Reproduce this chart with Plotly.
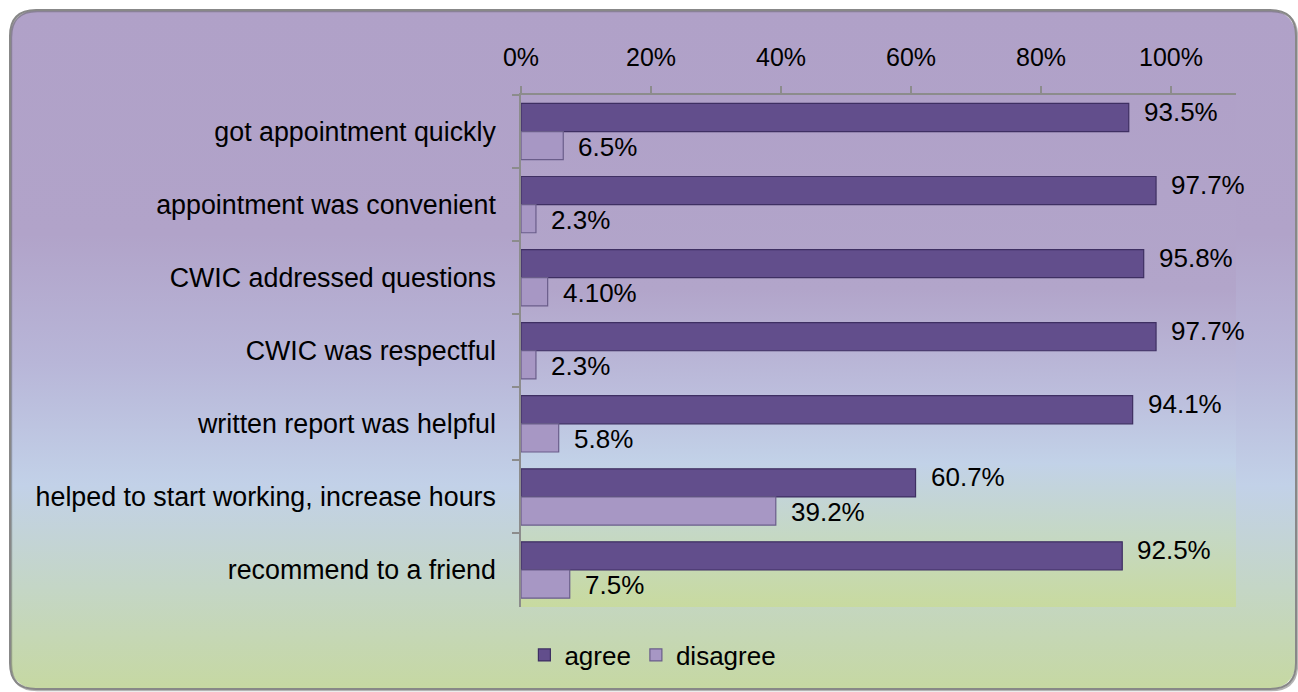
import numpy as np
import plotly.graph_objects as go

# ---- data -------------------------------------------------------------
categories = [
    "got appointment quickly",
    "appointment was convenient",
    "CWIC addressed questions",
    "CWIC was respectful",
    "written report was helpful",
    "helped to start working, increase hours",
    "recommend to a friend",
]
agree = [93.5, 97.7, 95.8, 97.7, 94.1, 60.7, 92.5]
agree_labels = ["93.5%", "97.7%", "95.8%", "97.7%", "94.1%", "60.7%", "92.5%"]
disagree = [6.5, 2.3, 4.1, 2.3, 5.8, 39.2, 7.5]
disagree_labels = ["6.5%", "2.3%", "4.10%", "2.3%", "5.8%", "39.2%", "7.5%"]
tick_values = [0, 20, 40, 60, 80, 100]
tick_labels = ["0%", "20%", "40%", "60%", "80%", "100%"]

# ---- canvas geometry (pixels) -----------------------------------------
W, H = 1298, 692
FONT = "Liberation Sans, Arial, sans-serif"
frame = (10, 10, 1296, 689, 26)         # x0, y0, x1, y1, corner radius
plot_box = (521, 95, 1236, 607)         # x0, y0, x1, y1 of the bar area


def rounded_rect(x0, y0, x1, y1, r, n=16):
    xs, ys = [], []
    corners = [
        (x1 - r, y0 + r, -np.pi / 2, 0.0),
        (x1 - r, y1 - r, 0.0, np.pi / 2),
        (x0 + r, y1 - r, np.pi / 2, np.pi),
        (x0 + r, y0 + r, np.pi, 1.5 * np.pi),
    ]
    for cx, cy, a0, a1 in corners:
        t = np.linspace(a0, a1, n)
        xs += list(cx + r * np.cos(t))
        ys += list(cy + r * np.sin(t))
    xs.append(xs[0])
    ys.append(ys[0])
    return xs, ys


fig = go.Figure()

# chart-area background: rounded panel with a purple -> blue -> green wash
fx, fy = rounded_rect(*frame)
fig.add_trace(go.Scatter(
    x=fx, y=fy, mode="lines", fill="toself", line=dict(width=0),
    fillgradient=dict(
        type="vertical", start=frame[1], stop=frame[3],
        colorscale=[[0.0, "#b0a1c8"], [0.33, "#b1a3c9"], [0.52, "#b8b6d8"],
                    [0.70, "#c2d1e8"], [0.85, "#c4d6c6"], [1.0, "#c6d8a2"]],
    ),
    hoverinfo="skip", showlegend=False, xaxis="x", yaxis="y",
))

# plot-area background with its own wash
px0, py0, px1, py1 = plot_box
fig.add_trace(go.Scatter(
    x=[px0, px1, px1, px0, px0], y=[py0, py0, py1, py1, py0],
    mode="lines", fill="toself", line=dict(width=0),
    fillgradient=dict(
        type="vertical", start=py0, stop=py1,
        colorscale=[[0.0, "#b0a1c8"], [0.38, "#b2a5ca"], [0.58, "#bcbddc"],
                    [0.72, "#c2d2e8"], [0.86, "#c5d8c4"], [1.0, "#c8da9f"]],
    ),
    hoverinfo="skip", showlegend=False, xaxis="x", yaxis="y",
))

# bars
fig.add_trace(go.Bar(
    name="agree", y=categories, x=agree, orientation="h",
    marker=dict(color="#624e8c", line=dict(color="#3e2f62", width=1.2)),
    xaxis="x2", yaxis="y2", hoverinfo="x+y",
))
fig.add_trace(go.Bar(
    name="disagree", y=categories, x=disagree, orientation="h",
    marker=dict(color="#a797c4", line=dict(color="#6a5d8a", width=1.2)),
    xaxis="x2", yaxis="y2", hoverinfo="x+y",
))

# value labels just past the end of each bar
for cat, val, lab in zip(categories, agree, agree_labels):
    fig.add_annotation(x=val, y=cat, xref="x2", yref="y2", text=lab,
                       showarrow=False, xanchor="left", yanchor="middle",
                       xshift=13, yshift=20,
                       font=dict(family=FONT, size=26, color="#000000"))
for cat, val, lab in zip(categories, disagree, disagree_labels):
    fig.add_annotation(x=val, y=cat, xref="x2", yref="y2", text=lab,
                       showarrow=False, xanchor="left", yanchor="middle",
                       xshift=13, yshift=-15,
                       font=dict(family=FONT, size=26, color="#000000"))

# frame outline with a faint drop shadow on the right/bottom edges
fx0, fy0, fx1, fy1, r = frame


def frame_path(dx=0.0, dy=0.0):
    a0, b0, a1, b1 = fx0 + dx, fy0 + dy, fx1 + dx, fy1 + dy
    return (f"M {a0 + r} {b0} L {a1 - r} {b0} Q {a1} {b0} {a1} {b0 + r} "
            f"L {a1} {b1 - r} Q {a1} {b1} {a1 - r} {b1} "
            f"L {a0 + r} {b1} Q {a0} {b1} {a0} {b1 - r} "
            f"L {a0} {b0 + r} Q {a0} {b0} {a0 + r} {b0} Z")


fig.add_shape(type="path", path=frame_path(1.2, 1.2), xref="x", yref="y",
              line=dict(color="rgba(90,90,90,0.45)", width=2), layer="above")
fig.add_shape(type="path", path=frame_path(), xref="x", yref="y",
              line=dict(color="#888888", width=2), layer="above")

fig.update_layout(
    width=W, height=H, autosize=False,
    margin=dict(l=0, r=0, t=0, b=0, pad=0, autoexpand=False),
    paper_bgcolor="#ffffff", plot_bgcolor="rgba(0,0,0,0)",
    font=dict(family=FONT, size=26, color="#000000"),
    barmode="group", bargap=0.23, bargroupgap=0.0,
    xaxis=dict(domain=[0, 1], range=[0, W], visible=False, fixedrange=True,
               automargin=False),
    yaxis=dict(domain=[0, 1], range=[H, 0], visible=False, fixedrange=True,
               automargin=False),
    xaxis2=dict(
        domain=[px0 / W, px1 / W], anchor="y2", side="top", automargin=False,
        range=[0, 110], tickvals=tick_values, ticktext=tick_labels,
        showgrid=False, zeroline=False,
        showline=True, linecolor="#8c8c8c", linewidth=1.5,
        ticks="outside", ticklen=7, tickcolor="#8c8c8c", tickwidth=1.5,
        tickfont=dict(family=FONT, size=25, color="#000000"),
        ticklabelstandoff=10,
    ),
    yaxis2=dict(
        domain=[1 - py1 / H, 1 - py0 / H], anchor="x2", automargin=False,
        autorange="reversed", type="category",
        showgrid=False, zeroline=False,
        showline=True, linecolor="#8c8c8c", linewidth=1.5,
        ticks="outside", ticklen=7, tickcolor="#8c8c8c", tickwidth=1.5,
        tickson="boundaries",
        tickfont=dict(family=FONT, size=26.8, color="#000000"),
        ticklabelstandoff=18,
    ),
    legend=dict(
        orientation="h", x=0.503, xanchor="center", y=1 - 655 / H,
        yanchor="middle", bgcolor="rgba(0,0,0,0)",
        font=dict(family=FONT, size=26), itemwidth=30, traceorder="normal",
    ),
)

fig.write_html("out.html")
